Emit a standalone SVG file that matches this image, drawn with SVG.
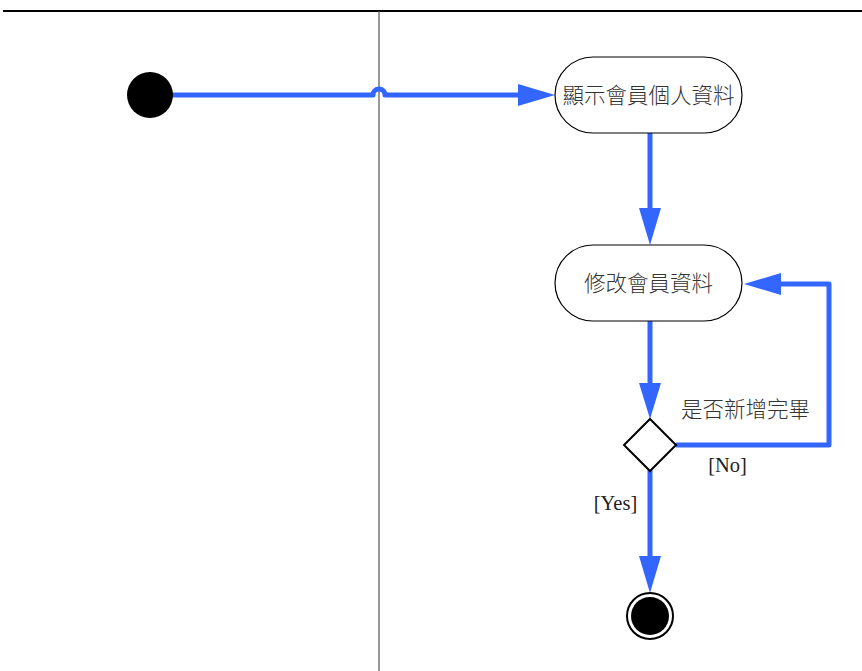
<svg xmlns="http://www.w3.org/2000/svg" width="862" height="671" viewBox="0 0 862 671">
<style>
.edge{fill:none;stroke:#3366ff;stroke-width:5;stroke-linejoin:round;stroke-linecap:round}
.head{fill:#3366ff;stroke:none}
.act{fill:#fff;stroke:#000;stroke-width:1.2}
.cjk{font-family:"Noto Sans CJK TC","Liberation Sans",sans-serif;font-size:21.5px;font-weight:300;fill:#333;text-anchor:middle}
.lbl{font-family:"Liberation Serif","Noto Sans CJK TC",serif;font-size:20.5px;fill:#222;text-anchor:middle}
</style>
<rect width="862" height="671" fill="#fff"/>
<g id="swimlanes">
<line x1="3" y1="11" x2="862" y2="11" stroke="#000" stroke-width="2"/>
<line x1="379" y1="11" x2="379" y2="671" stroke="#555" stroke-width="1.2"/>
</g>
<g id="connectors">
<path class="edge" d="M173,95 H373 A6,6 0 0 1 385,95 H528"/>
<polygon class="head" points="555,95 518,84 518,106"/>
<path class="edge" d="M650,133 V215"/>
<polygon class="head" points="650,245 639,208 661,208"/>
<path class="edge" d="M650,321 V390"/>
<polygon class="head" points="650,419 639,383 661,383"/>
<path class="edge" d="M677,445 H829 V284 H780"/>
<polygon class="head" points="744,284 781,273 781,295"/>
<path class="edge" d="M650,471 V560"/>
<polygon class="head" points="650,593 639,556 661,556"/>
<text class="cjk" x="745.5" y="417">是否新增完畢</text>
<text class="lbl" x="727.5" y="472">[No]</text>
<text class="lbl" x="615.5" y="510">[Yes]</text>
</g>
<g id="start"><circle cx="150" cy="95" r="23" fill="#000"/></g>
<g id="n1">
<rect class="act" x="555" y="57" width="187" height="76" rx="38" ry="38"/>
<text class="cjk" x="648.5" y="102.5">顯示會員個人資料</text>
</g>
<g id="n2">
<rect class="act" x="555" y="245" width="187" height="76" rx="38" ry="38"/>
<text class="cjk" x="648.5" y="291">修改會員資料</text>
</g>
<g id="decision"><polygon points="650,419 676,445 650,471 624,445" fill="#fff" stroke="#000" stroke-width="2"/></g>
<g id="end">
<circle cx="650" cy="616" r="23" fill="#fff" stroke="#000" stroke-width="2"/>
<circle cx="650" cy="616" r="19" fill="#000"/>
</g>
</svg>
